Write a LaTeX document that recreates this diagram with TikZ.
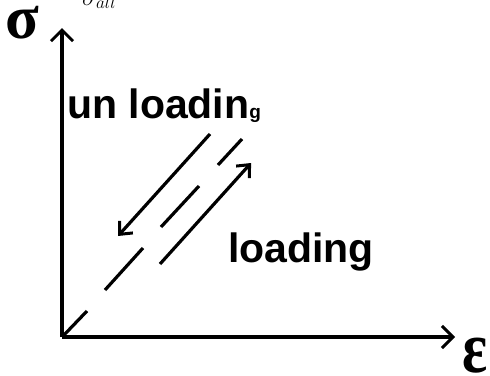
\documentclass[tikz,border=0pt]{standalone}
\usepackage{fontspec}
\setmainfont{Liberation Sans}
\newfontfamily\serifgr{Liberation Serif}
\usetikzlibrary{arrows.meta}
\tikzset{
  axisline/.style={line width=3.2pt,-{Straight Barb[length=11pt,width=22pt,line width=3pt]}},
  pathline/.style={line width=3.2pt,-{Straight Barb[length=10pt,width=18pt,line width=3pt]}},
  dashseg/.style={line width=3.2pt},
  lbl/.style={anchor=base west,inner sep=0pt,font=\bfseries\fontsize{41}{41}\selectfont},
  greek/.style={anchor=base west,inner sep=0pt,font=\serifgr\bfseries\fontsize{62}{62}\selectfont}
}
\begin{document}
\begin{tikzpicture}[x=1pt,y=-1pt]
\useasboundingbox (0,0) rectangle (490,375);
% axes
\coordinate (O) at (62,337);
\coordinate (Ytip) at (62,28);
\coordinate (Xtip) at (455,337);
\draw[axisline] (O) -- (Ytip);
\draw[axisline] (O) -- (Xtip);
% axis labels
\node[greek] (sig) at (5,38) {σ};
\node[greek] (eps) at (462,372) {\scalebox{0.95}[1.18]{ε}};
\node[anchor=base west,inner sep=0pt,font=\fontsize{26}{26}\selectfont] (sall) at (82,5) {$\sigma_{all}$};
% unloading / loading arrows
\coordinate (ua) at (210,134);
\coordinate (ub) at (118,236);
\coordinate (la) at (160,264);
\coordinate (lb) at (251,163);
\draw[pathline] (ua) -- (ub);
\draw[pathline] (la) -- (lb);
% dashed elastic line
\coordinate (d1a) at (64,335); \coordinate (d1b) at (87,311);
\coordinate (d2a) at (105,290); \coordinate (d2b) at (143,248);
\coordinate (d3a) at (161,227); \coordinate (d3b) at (199,186);
\coordinate (d4a) at (218,165); \coordinate (d4b) at (242,139);
\draw[dashseg] (d1a) -- (d1b);
\draw[dashseg] (d2a) -- (d2b);
\draw[dashseg] (d3a) -- (d3b);
\draw[dashseg] (d4a) -- (d4b);
% labels
\node[lbl] (unl) at (67,118) {un loadin{\fontsize{19}{19}\selectfont g}};
\node[lbl] (lo) at (228,262) {loading};
\end{tikzpicture}
\end{document}
